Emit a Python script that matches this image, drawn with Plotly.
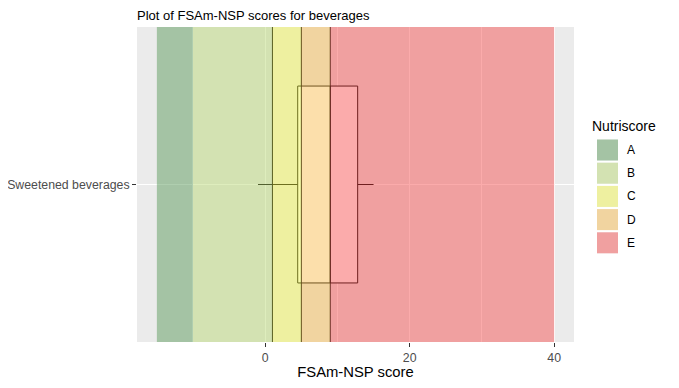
import plotly.graph_objects as go

# ---- data ----
categories = ["Sweetened beverages"]
box_lowerfence = [-1]
box_q1 = [4.5]
box_median = [9]
box_q3 = [12.8]
box_upperfence = [15]

grades = ["A", "B", "C", "D", "E"]
band_low = [-15, -10, 1, 5, 9]
band_high = [-10, 1, 5, 9, 40]
thresholds = [1, 5, 9]
x_ticks = [0, 20, 40]

# ---- styles ----
band_rgb = [(77, 146, 77), (182, 215, 108), (242, 246, 68), (248, 184, 68), (246, 68, 68)]
alpha = 0.45
FONT = "Liberation Sans, Arial, sans-serif"

# the page body adds an 8px margin; lay out in window coordinates
OFF = 8
WIN_W, WIN_H = 679, 388
W, H = WIN_W - 2 * OFF, WIN_H - 2 * OFF
P_LEFT, P_RIGHT, P_TOP, P_BOTTOM = 137, 574, 27, 342  # panel in window px
ML = P_LEFT - OFF
MT = P_TOP - OFF
MR = W - (P_RIGHT - OFF)
MB = H - (P_BOTTOM - OFF)
PW = P_RIGHT - P_LEFT
PH = P_BOTTOM - P_TOP


def px_x(x):
    return (x - P_LEFT) / PW


def px_y(y):
    return (P_BOTTOM - y) / PH


fig = go.Figure()
fig.add_trace(go.Box(
    y=categories, q1=box_q1, median=box_median, q3=box_q3,
    lowerfence=box_lowerfence, upperfence=box_upperfence,
    orientation="h", fillcolor="white",
    line=dict(color="black", width=1), whiskerwidth=0, width=0.75,
    boxpoints=False, showlegend=False, hoverinfo="skip",
))

shapes = []
for t in thresholds:
    shapes.append(dict(type="line", xref="x", yref="y domain", x0=t, x1=t, y0=0, y1=1,
                       line=dict(color="black", width=1), layer="above"))
for lo, hi, rgb in zip(band_low, band_high, band_rgb):
    shapes.append(dict(type="rect", xref="x", yref="y domain", x0=lo, x1=hi, y0=0, y1=1,
                       fillcolor="rgba(%d,%d,%d,%.2f)" % (*rgb, alpha),
                       line=dict(width=0), layer="above"))

# manual legend (ggplot style keys)
annotations = []
key_top = 139.5
key_h = 21
key_pitch = 23.2
annotations.append(dict(text="Nutriscore", xref="paper", yref="paper",
                        x=px_x(590), y=px_y(126),
                        xanchor="left", yanchor="middle", showarrow=False,
                        font=dict(family=FONT, size=14, color="black")))
for i, (g, rgb) in enumerate(zip(grades, band_rgb)):
    top = key_top + i * key_pitch
    y1 = px_y(top)
    y0 = px_y(top + key_h)
    shapes.append(dict(type="rect", xref="paper", yref="paper", x0=px_x(597), x1=px_x(618),
                       y0=y0, y1=y1, fillcolor="#EBEBEB", line=dict(width=0), layer="above"))
    shapes.append(dict(type="rect", xref="paper", yref="paper", x0=px_x(597), x1=px_x(618),
                       y0=y0, y1=y1, fillcolor="rgba(%d,%d,%d,%.2f)" % (*rgb, alpha),
                       line=dict(width=0), layer="above"))
    annotations.append(dict(text=g, xref="paper", yref="paper",
                            x=px_x(625), y=(y0 + y1) / 2,
                            xanchor="left", yanchor="middle", showarrow=False,
                            font=dict(family=FONT, size=12, color="black")))

fig.update_layout(
    width=W, height=H,
    margin=dict(l=ML, r=MR, t=MT, b=MB, autoexpand=False),
    paper_bgcolor="white", plot_bgcolor="#EBEBEB",
    showlegend=False,
    font=dict(family=FONT),
    title=dict(text="Plot of FSAm-NSP scores for beverages", xref="paper", x=0,
               xanchor="left", yref="container", y=1 - 7 / H, yanchor="middle",
               font=dict(family=FONT, size=13, color="black")),
    xaxis=dict(range=[-17.75, 42.75], tickvals=x_ticks, showgrid=True, automargin=False,
               gridcolor="white", gridwidth=1.1, zeroline=False,
               ticks="outside", ticklen=4, tickcolor="#333333", tickwidth=1,
               tickfont=dict(family=FONT, size=12.3, color="#4D4D4D"),
               minor=dict(dtick=10, tick0=0, showgrid=True, gridcolor="white", gridwidth=0.55),
               title=dict(text="FSAm-NSP score", standoff=4,
                          font=dict(family=FONT, size=14.8, color="black"))),
    yaxis=dict(type="category", range=[-0.6, 0.6], showgrid=True, gridcolor="white",
               automargin=False,
               gridwidth=1.1, zeroline=False, ticks="outside", ticklen=4,
               tickcolor="#333333", tickwidth=1,
               tickfont=dict(family=FONT, size=12.3, color="#4D4D4D")),
    shapes=shapes, annotations=annotations,
)

fig.write_html("out.html")
